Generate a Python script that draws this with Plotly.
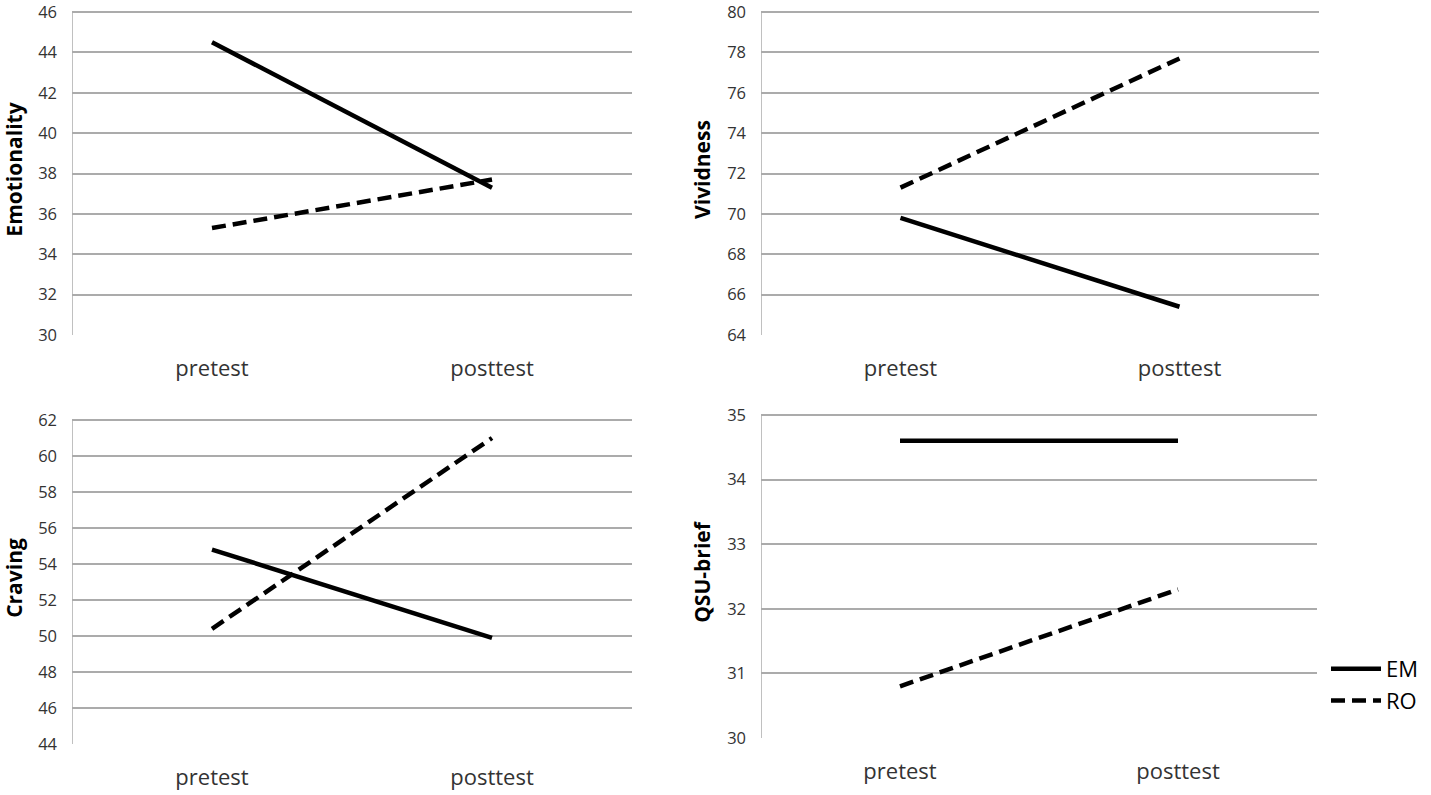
import plotly.graph_objects as go

W, H = 1431, 795

categories = ["pretest", "posttest"]

emo_em = [44.5, 37.3]
emo_ro = [35.3, 37.7]

viv_em = [69.8, 65.4]
viv_ro = [71.3, 77.7]

crav_em = [54.8, 49.9]
crav_ro = [50.4, 61.0]

qsu_em = [34.6, 34.6]
qsu_ro = [30.8, 32.3]

panels = [
    dict(title="Emotionality", em=emo_em, ro=emo_ro, rng=[30, 46], dtick=2,
         px_x=(72, 632), px_y=(12, 335)),
    dict(title="Vividness", em=viv_em, ro=viv_ro, rng=[64, 80], dtick=2,
         px_x=(761, 1319), px_y=(12, 335)),
    dict(title="Craving", em=crav_em, ro=crav_ro, rng=[44, 62], dtick=2,
         px_x=(72, 632), px_y=(420, 744)),
    dict(title="QSU-brief", em=qsu_em, ro=qsu_ro, rng=[30, 35], dtick=1,
         px_x=(761, 1317), px_y=(415, 738)),
]

FONT = "Open Sans"
TXT = "#333333"
GRID = "#ABABAB"
PAD = 8  # extra pixels above the top tick so its gridline is drawn

fig = go.Figure()
xpos = list(range(len(categories)))

for i, p in enumerate(panels):
    n = "" if i == 0 else str(i + 1)
    fig.add_trace(go.Scatter(
        x=xpos, y=p["em"], mode="lines", name="EM",
        line=dict(color="black", width=4.5),
        xaxis="x" + n, yaxis="y" + n, showlegend=(i == 0), legendgroup="EM"))
    fig.add_trace(go.Scatter(
        x=xpos, y=p["ro"], mode="lines", name="RO",
        line=dict(color="black", width=4.5, dash="14px,7px"),
        xaxis="x" + n, yaxis="y" + n, showlegend=(i == 0), legendgroup="RO"))

    x0, x1 = p["px_x"]
    y0, y1 = p["px_y"]
    lo, hi = p["rng"]
    ppu = (y1 - y0) / (hi - lo)
    eps = PAD / ppu
    fig.layout["xaxis" + n] = dict(
        domain=[x0 / W, x1 / W], anchor="y" + n,
        range=[-0.5, len(categories) - 0.5],
        tickvals=xpos, ticktext=categories,
        showgrid=False, zeroline=False, showline=False,
        ticks="", ticklabelstandoff=18, automargin=False,
        ticklabeloverflow="allow",
        tickfont=dict(family=FONT, size=22, color=TXT),
        fixedrange=True)
    fig.layout["yaxis" + n] = dict(
        domain=[1 - y1 / H, min(1.0, 1 - (y0 - PAD) / H)], anchor="x" + n,
        range=[lo, hi + eps], dtick=p["dtick"], tick0=lo,
        showgrid=True, gridcolor=GRID, gridwidth=1.5,
        zeroline=False, showline=False,
        ticks="", ticklabelstandoff=14, automargin=False,
        ticklabeloverflow="allow",
        tickfont=dict(family=FONT, size=16.5, color=TXT),
        title=dict(text="<b>" + p["title"] + "</b>", standoff=10,
                   font=dict(family=FONT, size=21, color="black")),
        fixedrange=True)
    # vertical axis line spanning exactly the value range
    fig.add_trace(go.Scatter(
        x=[-0.5, -0.5], y=[lo, hi], mode="lines", hoverinfo="skip",
        line=dict(color=GRID, width=1.5), showlegend=False,
        xaxis="x" + n, yaxis="y" + n, cliponaxis=False))

# draw axis lines beneath the data lines
fig.data = tuple([t for t in fig.data if t.line.color == GRID] +
                 [t for t in fig.data if t.line.color != GRID])

fig.update_layout(
    width=W, height=H,
    margin=dict(l=0, r=0, t=0, b=0, autoexpand=False),
    paper_bgcolor="white", plot_bgcolor="white",
    showlegend=True,
    legend=dict(x=1326 / W, y=1 - 648 / H, xanchor="left", yanchor="top",
                font=dict(family=FONT, size=22, color="black"),
                bgcolor="rgba(0,0,0,0)", itemwidth=50, tracegroupgap=0,
                traceorder="normal"),
)

fig.write_html("out.html",
               config={"displayModeBar": False},
               post_script="document.body.style.margin='0';document.body.style.overflow='hidden';")
